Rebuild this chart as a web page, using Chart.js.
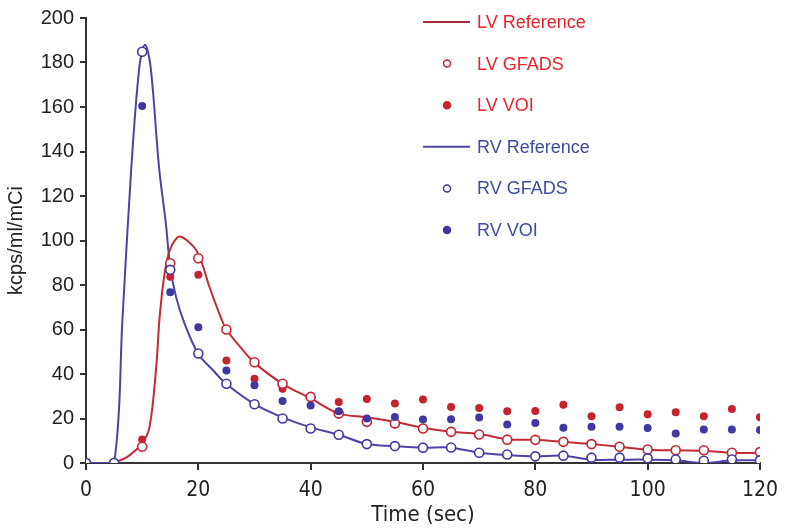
<!DOCTYPE html>
<html lang="en">
<head>
<meta charset="UTF-8">
<title>LV / RV time-activity curves</title>
<script src="https://cdn.jsdelivr.net/npm/chart.js"></script>
<style>
  html, body { margin: 0; padding: 0; background: #fff; }
  #wrap { width: 786px; height: 532px; }
</style>
</head>
<body>
<div id="wrap"><canvas id="tac-chart" width="786" height="532"></canvas></div>

<script>
// sample times (sec) of the GFADS and VOI points
var times = [0, 5, 10, 15, 20, 25, 30, 35, 40, 45, 50, 55, 60, 65, 70, 75, 80, 85, 90, 95, 100, 105, 110, 115, 120];

var lvGfads = [0, 0, 7.3, 89.8, 92, 60, 45.3, 35.6, 29.7, 22.2, 18.5, 17.8, 15.5, 14.0, 12.8, 10.5, 10.4, 9.5, 8.5, 7.3, 6.1, 5.7, 5.7, 4.6, 4.9];
var lvVoi   = [0, 0, 10.6, 83.7, 84.6, 46.1, 37.9, 33.4, 30, 27.4, 28.8, 26.7, 28.5, 25.2, 24.7, 23.3, 23.4, 26.2, 21.0, 25.1, 21.9, 22.8, 21.0, 24.3, 20.6];
var rvGfads = [0, 0, 184.8, 86.8, 49.2, 35.6, 26.4, 20.0, 15.5, 12.7, 8.5, 7.6, 6.9, 7.0, 4.6, 3.8, 3.0, 3.3, 2.4, 2.4, 2.1, 1.6, 1.0, 1.6, 1.2];
var rvVoi   = [0, 0, 160.5, 76.7, 61, 41.6, 34.9, 27.9, 25.8, 23.3, 20, 20.7, 19.5, 19.7, 20.4, 17.3, 18.0, 15.8, 16.3, 16.3, 15.7, 13.3, 15.1, 15.1, 14.8];

// reference curves
var lvRefTime  = [0, 2.5, 5, 7.5, 10, 11.3, 12.5, 13.2, 14.5, 16.3, 18, 20, 22, 24, 25, 28, 30, 35, 40, 45, 50, 55, 60, 65, 70, 75, 80, 85, 90, 95, 100, 105, 110, 115, 120];
var lvRefValue = [0, -0.8, 0.3, 3, 9, 16, 43, 68, 92, 101.5, 100, 94, 79, 65.5, 60, 50.5, 45, 35.6, 29, 22.3, 20.5, 18.5, 15.8, 14, 13, 10.7, 10.4, 9.5, 8.5, 7.3, 6, 5.7, 5.5, 4.6, 4.5];
var rvRefTime  = [0, 2.5, 5, 6.5, 8, 9.5, 10.5, 11.5, 13, 14.2, 15, 16, 17.5, 20, 22.5, 25, 30, 35, 40, 45, 50, 55, 60, 65, 70, 75, 80, 85, 90, 95, 100, 105, 110, 115, 120];
var rvRefValue = [0, 0, 0, 65, 130, 178, 188, 178, 133, 108, 88, 75, 63, 49, 42, 35.5, 26.5, 20.5, 16, 12.7, 8.5, 7.6, 6.9, 6.9, 4.6, 3.6, 3.0, 3.3, 1.5, 1.5, 1.5, 1.2, 0, 1.2, 1.2];

var seriesNames = ['LV Reference', 'LV GFADS', 'LV VOI', 'RV Reference', 'RV GFADS', 'RV VOI'];

function pairs(xs, ys) {
    return xs.map(function(x, i){ return { x: x, y: ys[i] }; });
}

var RED = '#c62330', RED_TXT = '#e8242b', RED_LINE = '#c22a35';
var BLUE = '#3f38a0', BLUE_TXT = '#3d4ea2', BLUE_LINE = '#4c42aa';
var NARROW = '"Liberation Sans Narrow", "DejaVu Sans Condensed", sans-serif';
var SANS = '"Liberation Sans", Arial, sans-serif';

// legend drawn inside the plot, top right
var innerLegend = {
    id: 'innerLegend',
    afterDraw: function(chart) {
        var ctx = chart.ctx;
        ctx.save();
        ctx.font = '18px ' + SANS;
        ctx.textBaseline = 'middle';
        chart.data.datasets.forEach(function(ds, i) {
            var y = 22 + i * 41.6;
            if (ds.showLine) {
                ctx.strokeStyle = ds.legendLine;
                ctx.lineWidth = 2;
                ctx.beginPath();
                ctx.moveTo(423, y);
                ctx.lineTo(470, y);
                ctx.stroke();
            } else {
                ctx.beginPath();
                ctx.arc(447, y, 3.5, 0, Math.PI * 2);
                ctx.fillStyle = ds.pointBackgroundColor;
                ctx.fill();
                ctx.lineWidth = 1.5;
                ctx.strokeStyle = ds.pointBorderColor;
                ctx.stroke();
            }
            ctx.fillStyle = ds.legendText;
            ctx.fillText(ds.label, 477, y + 1);
        });
        ctx.restore();
    }
};

var ctx = document.getElementById('tac-chart').getContext('2d');
var chart = new Chart(ctx, {
    type: 'scatter',
    data: {
        datasets: [
            { label: seriesNames[0], data: pairs(lvRefTime, lvRefValue), showLine: true, borderColor: RED_LINE, borderWidth: 2,
              pointRadius: 0, tension: 0.35, legendLine: '#a8303e', legendText: RED_TXT, order: 2 },
            { label: seriesNames[1], data: pairs(times, lvGfads), showLine: false, pointRadius: 4.5, pointBorderWidth: 1.6,
              pointBorderColor: RED, pointBackgroundColor: '#ffffff', legendText: RED_TXT, order: 1 },
            { label: seriesNames[2], data: pairs(times, lvVoi), showLine: false, pointRadius: 4, pointBorderWidth: 0,
              pointBorderColor: RED, pointBackgroundColor: RED, legendText: RED_TXT, order: 1 },
            { label: seriesNames[3], data: pairs(rvRefTime, rvRefValue), showLine: true, borderColor: BLUE_LINE, borderWidth: 2,
              pointRadius: 0, tension: 0.35, legendLine: '#4a45a0', legendText: BLUE_TXT, order: 2 },
            { label: seriesNames[4], data: pairs(times, rvGfads), showLine: false, pointRadius: 4.5, pointBorderWidth: 1.6,
              pointBorderColor: BLUE, pointBackgroundColor: '#ffffff', legendText: BLUE_TXT, order: 0 },
            { label: seriesNames[5], data: pairs(times, rvVoi), showLine: false, pointRadius: 4, pointBorderWidth: 0,
              pointBorderColor: BLUE, pointBackgroundColor: BLUE, legendText: BLUE_TXT, order: 0 }
        ]
    },
    options: {
        responsive: false,
        animation: false,
        layout: { padding: { top: 14, right: 24, left: 0, bottom: 0 } },
        plugins: {
            legend: { display: false },
            tooltip: { enabled: false }
        },
        scales: {
            x: {
                type: 'linear',
                min: 0, max: 120,
                ticks: { stepSize: 20, color: '#222', padding: 8, font: { family: NARROW, size: 21 } },
                grid: { drawOnChartArea: false, drawTicks: true, tickLength: 7, color: '#333', lineWidth: 2 },
                border: { display: true, color: '#333', width: 2 },
                title: { display: true, text: 'Time (sec)', color: '#222', padding: { top: 7 },
                         font: { family: NARROW, size: 22 } },
                afterFit: function(s){ s.height = 69; }
            },
            y: {
                min: 0, max: 200,
                ticks: { stepSize: 20, color: '#222', padding: 6, font: { family: SANS, size: 20 } },
                grid: { drawOnChartArea: false, drawTicks: true, tickLength: 6, color: '#333', lineWidth: 2 },
                border: { display: true, color: '#333', width: 2 },
                title: { display: true, text: 'kcps/ml/mCi', color: '#222', padding: { bottom: 2 },
                         font: { family: SANS, size: 20 } },
                afterFit: function(s){ s.width = 86; }
            }
        }
    },
    plugins: [innerLegend]
});
</script>
</body>
</html>
